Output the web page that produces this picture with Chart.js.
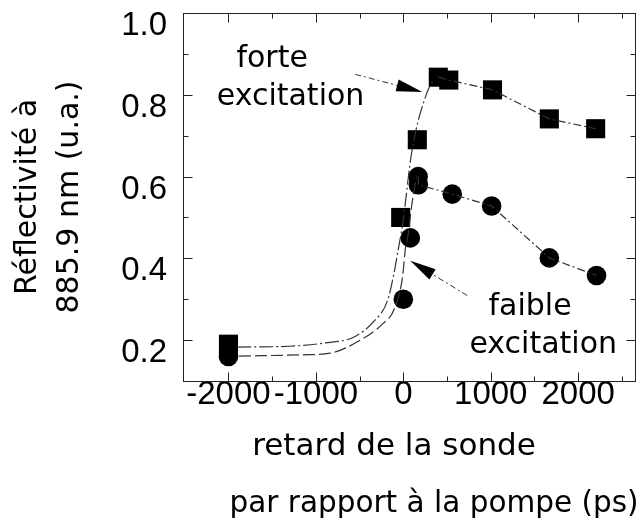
<!DOCTYPE html>
<html>
<head>
<meta charset="utf-8">
<script src="https://cdn.jsdelivr.net/npm/chart.js@4"></script>
<style>
  html, body { margin: 0; padding: 0; background: #fff; }
  #chart { display: block; }
</style>
</head>
<body>
<canvas id="chart" width="639" height="528"></canvas>
<script>
// === DATA ===
// forte excitation (squares)
var strongX = [-2000, -30, 160, 400, 520, 1020, 1670, 2200];
var strongY = [0.19, 0.50, 0.69, 0.843, 0.836, 0.812, 0.741, 0.717];
// faible excitation (circles)
var weakX = [-2000, 0, 80, 170, 172, 560, 1010, 1670, 2210];
var weakY = [0.16, 0.30, 0.45, 0.60, 0.58, 0.557, 0.528, 0.401, 0.358];

// guide curves
var strongFitX = [-1900, -1300, -900, -570, -340, -180, -110, -60, -10, 100, 270, 340];
var strongFitY = [0.183, 0.185, 0.193, 0.207, 0.245, 0.297, 0.36, 0.42, 0.48, 0.665, 0.805, 0.835];
var weakFitX = [-1880, -1150, -840, -490, -230, -110, -10, 25, 57, 90, 150];
var weakFitY = [0.161, 0.164, 0.168, 0.20, 0.241, 0.273, 0.353, 0.426, 0.46, 0.52, 0.60];

var xTicks = [-2000, -1000, 0, 1000, 2000];
var xMinorTicks = [-1500, -500, 500, 1500, 2500];
var yTicks = [0.2, 0.4, 0.6, 0.8, 1.0];
var yMinorTicks = [0.3, 0.5, 0.7, 0.9];

var xTitle = ['retard de la sonde', 'par rapport \u00e0 la pompe (ps)'];
var yTitle = ['R\u00e9flectivit\u00e9 \u00e0', '885.9 nm (u.a.)'];

// annotation labels: [text, x, y(baseline)]
var noteLabels = [
  ['forte', -1500, 0.867],
  ['excitation', -1290, 0.776],
  ['faible', 1450, 0.261],
  ['excitation', 1600, 0.169]
];
// arrows: [fromX, fromY, tipX, tipY]
var noteArrows = [
  [-550, 0.85, 217, 0.807],
  [732, 0.309, 80, 0.394]
];

var TEXT_FONT = "'DejaVu Sans'";
var TICK_FONT = "'Liberation Sans', Arial, sans-serif";

function pts(xs, ys) {
  return xs.map(function(x, i) { return { x: x, y: ys[i] }; });
}

// === FRAME + INWARD TICKS ===
var framePlugin = {
  id: 'frame',
  afterDatasetsDraw: function(chart) {
    var ctx = chart.ctx;
    var xs = chart.scales.x, ys = chart.scales.y;
    var l = Math.round(xs.getPixelForValue(xs.min)) + 0.5;
    var r = Math.round(xs.getPixelForValue(xs.max)) + 0.5;
    var t = Math.round(ys.getPixelForValue(ys.max)) + 0.5;
    var b = Math.round(ys.getPixelForValue(ys.min)) + 0.5;
    ctx.save();
    ctx.strokeStyle = '#222';
    ctx.lineWidth = 1;
    ctx.strokeRect(l, t, r - l, b - t);
    ctx.beginPath();
    function vTick(v, len) {
      var p = Math.round(xs.getPixelForValue(v)) + 0.5;
      ctx.moveTo(p, b); ctx.lineTo(p, b - len);
      ctx.moveTo(p, t); ctx.lineTo(p, t + len);
    }
    function hTick(v, len) {
      var p = Math.round(ys.getPixelForValue(v)) + 0.5;
      ctx.moveTo(l, p); ctx.lineTo(l + len, p);
      ctx.moveTo(r, p); ctx.lineTo(r - len, p);
    }
    xTicks.forEach(function(v) { vTick(v, 9); });
    xMinorTicks.forEach(function(v) { vTick(v, 5); });
    yTicks.forEach(function(v) { if (v < 1) hTick(v, 9); });
    yMinorTicks.forEach(function(v) { hTick(v, 5); });
    ctx.stroke();
    ctx.restore();
  }
};

// === ANNOTATIONS (text + arrows) + X TITLE ===
var notesPlugin = {
  id: 'notes',
  afterDatasetsDraw: function(chart) {
    var ctx = chart.ctx;
    var xs = chart.scales.x, ys = chart.scales.y;
    var a = chart.chartArea;
    ctx.save();
    ctx.fillStyle = '#000';
    ctx.font = '30px ' + TEXT_FONT;
    ctx.textAlign = 'center';
    ctx.textBaseline = 'alphabetic';
    noteLabels.forEach(function(n) {
      ctx.fillText(n[0], xs.getPixelForValue(n[1]), ys.getPixelForValue(n[2]));
    });

    // x axis title: second line sits right of the first in the original
    var mid = (a.left + a.right) / 2;
    ctx.font = '31px ' + TEXT_FONT;
    ctx.fillText(xTitle[0], mid - 15, a.bottom + 74);
    ctx.font = '29.5px ' + TEXT_FONT;
    ctx.fillText(xTitle[1], mid + 25, a.bottom + 131);

    noteArrows.forEach(function(ar) {
      var x0 = xs.getPixelForValue(ar[0]), y0 = ys.getPixelForValue(ar[1]);
      var x1 = xs.getPixelForValue(ar[2]), y1 = ys.getPixelForValue(ar[3]);
      var ang = Math.atan2(y1 - y0, x1 - x0);
      var headLen = 26, headW = 6;
      var bx = x1 - headLen * Math.cos(ang), by = y1 - headLen * Math.sin(ang);
      ctx.strokeStyle = '#333';
      ctx.lineWidth = 1;
      ctx.setLineDash([6, 3, 2, 3]);
      ctx.beginPath();
      ctx.moveTo(x0, y0);
      ctx.lineTo(bx, by);
      ctx.stroke();
      ctx.setLineDash([]);
      ctx.beginPath();
      ctx.moveTo(x1, y1);
      ctx.lineTo(bx + headW * Math.sin(ang), by - headW * Math.cos(ang));
      ctx.lineTo(bx - headW * Math.sin(ang), by + headW * Math.cos(ang));
      ctx.closePath();
      ctx.fill();
    });
    ctx.restore();
  }
};

var lineBase = { showLine: true, pointRadius: 0, pointHoverRadius: 0, borderColor: '#333', borderWidth: 1.2, fill: false };

new Chart(document.getElementById('chart'), {
  type: 'scatter',
  data: {
    datasets: [
      Object.assign({}, lineBase, { data: pts(strongFitX, strongFitY), borderDash: [14, 3, 2, 3], cubicInterpolationMode: 'monotone' }),
      Object.assign({}, lineBase, { data: pts(weakFitX, weakFitY), borderDash: [12, 4], cubicInterpolationMode: 'monotone' }),
      Object.assign({}, lineBase, { data: pts(strongX.slice(3), strongY.slice(3)), borderDash: [8, 3, 2, 3] }),
      Object.assign({}, lineBase, { data: pts(weakX.slice(3), weakY.slice(3)), borderDash: [8, 3, 2, 3] }),
      {
        data: pts(strongX, strongY), pointStyle: 'rect', pointRadius: 13.5, pointHoverRadius: 13.5,
        backgroundColor: '#000', borderColor: '#000', borderWidth: 0, showLine: false
      },
      {
        data: pts(weakX, weakY), pointStyle: 'circle', pointRadius: 9.8, pointHoverRadius: 9.8,
        backgroundColor: '#000', borderColor: '#000', borderWidth: 0, showLine: false
      }
    ]
  },
  options: {
    responsive: false,
    animation: false,
    devicePixelRatio: 1,
    layout: { autoPadding: false, padding: { left: 0, top: 13, right: 4, bottom: 0 } },
    plugins: { legend: { display: false }, tooltip: { enabled: false } },
    scales: {
      x: {
        type: 'linear', min: -2520, max: 2650,
        afterBuildTicks: function(s) { s.ticks = xTicks.map(function(v) { return { value: v }; }); },
        afterFit: function(s) { s.height = 147; s.paddingLeft = 0; s.paddingRight = 0; },
        grid: { display: false, drawTicks: false }, border: { display: false },
        ticks: {
          autoSkip: false, maxRotation: 0, padding: -3, color: '#000',
          font: { family: TICK_FONT, size: 33, lineHeight: 1.0 },
          callback: function(v) { return String(v); }
        },
        title: { display: false }
      },
      y: {
        type: 'linear', min: 0.1, max: 1.0,
        afterBuildTicks: function(s) { s.ticks = yTicks.map(function(v) { return { value: v }; }); },
        afterFit: function(s) { s.width = 183; s.paddingTop = 0; s.paddingBottom = 0; },
        grid: { display: false, drawTicks: false }, border: { display: false },
        ticks: {
          padding: 16, labelOffset: 13, color: '#000',
          font: { family: TICK_FONT, size: 33, lineHeight: 1.0 },
          callback: function(v) { return v.toFixed(1); }
        },
        title: {
          display: true, text: yTitle, color: '#000',
          font: { family: TEXT_FONT, size: 30, lineHeight: 1.4 },
          padding: { top: 7, bottom: 30 }
        }
      }
    }
  },
  plugins: [framePlugin, notesPlugin]
});
</script>
</body>
</html>
